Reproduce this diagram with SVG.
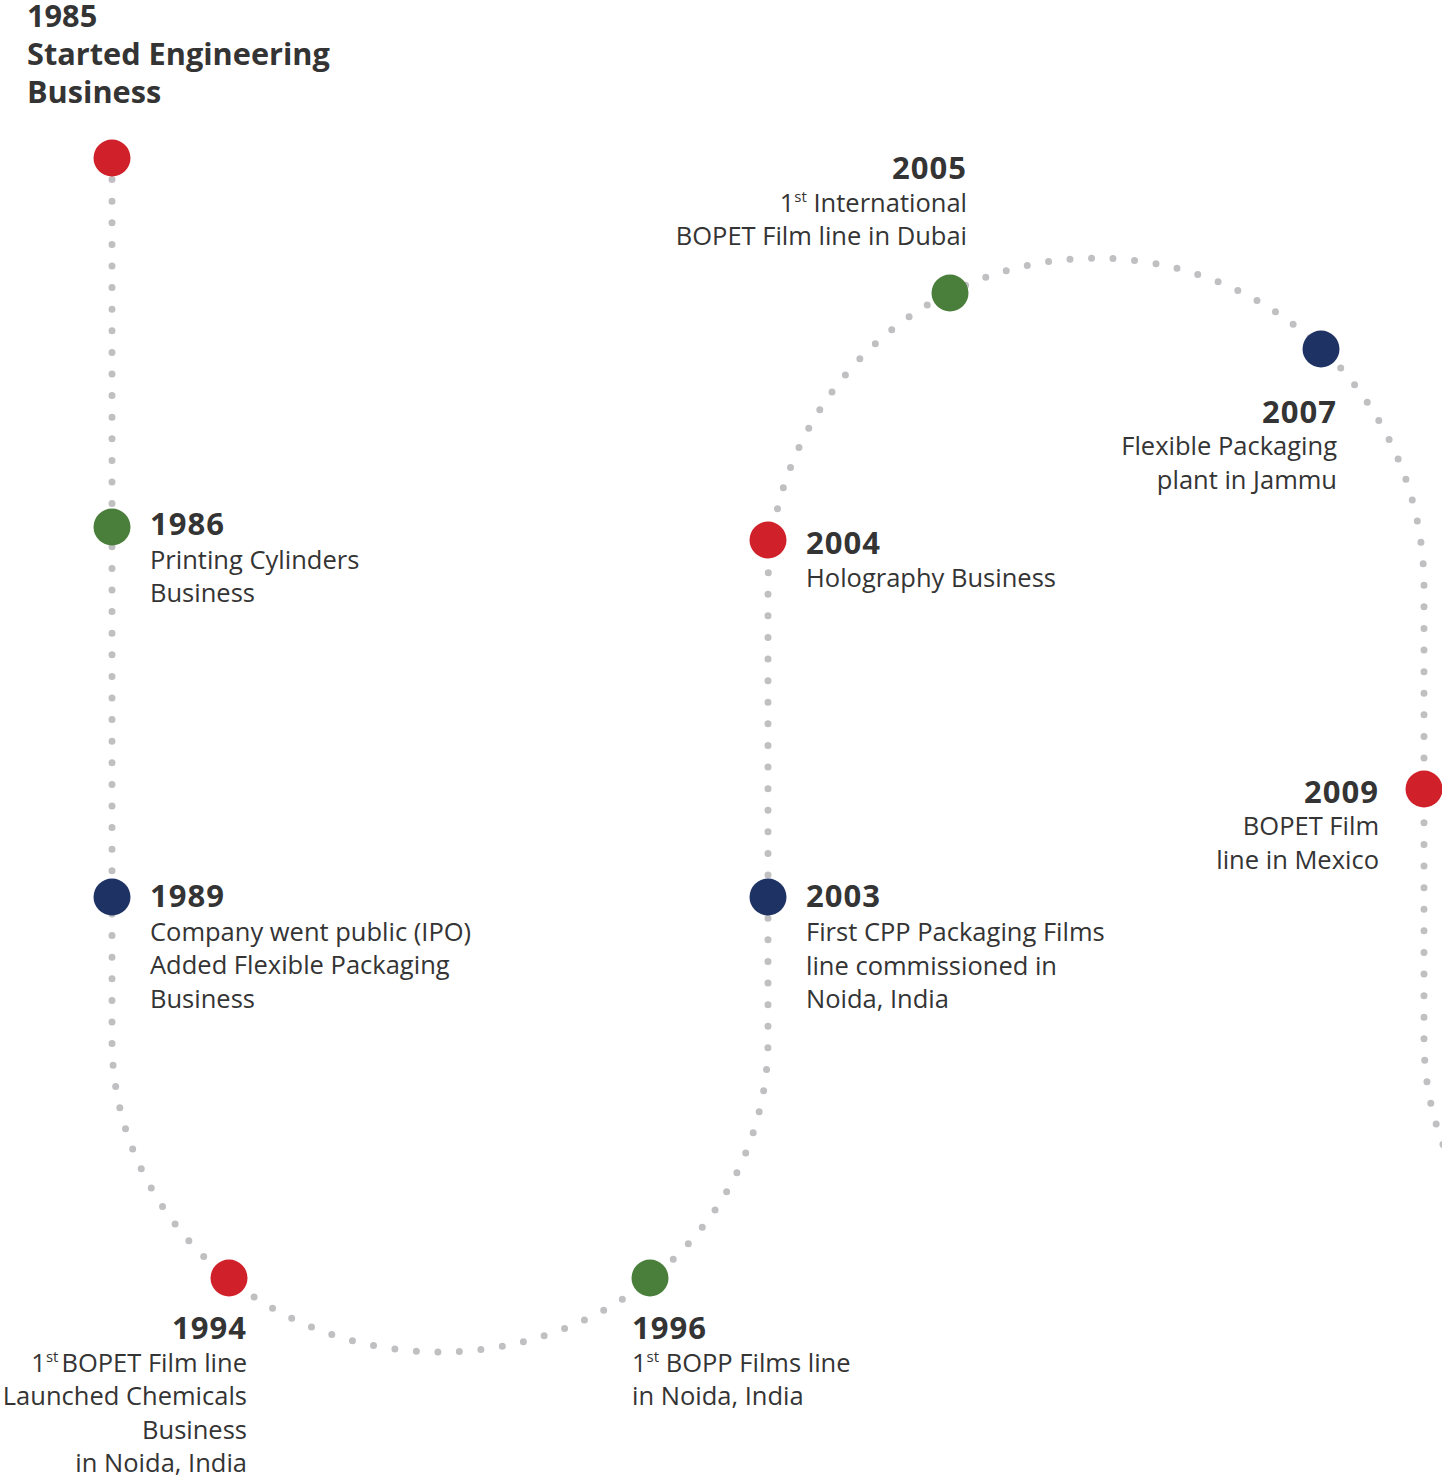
<svg xmlns="http://www.w3.org/2000/svg" width="1442" height="1477" viewBox="0 0 1442 1477">
<style>
text{font-family:"Open Sans","Liberation Sans",sans-serif;fill:#343434}
.y{font-weight:700;font-size:31px;letter-spacing:1px}
.b{font-size:25.5px}
.h{font-weight:700;font-size:30.7px}
.e{text-anchor:end}
.s{font-size:15px}
.red{fill:#d0202a}.grn{fill:#4a7e3b}.nav{fill:#1e3264}
</style>
<rect width="1442" height="1477" fill="#fff"/>
<g id="connectors">
<path d="M112,158 L112,1040 A328,312 0 0 0 768,1040 L768,587 A328,329 0 0 1 1424,587 L1424,1040 A328,312 0 0 0 1752,1352" fill="none" stroke="#c0c0c2" stroke-width="7" stroke-linecap="round" stroke-dasharray="0 21.6"/>
</g>
<g id="n1985"><circle class="red" cx="112" cy="158" r="18.5"/>
<text class="h" x="27" y="27">1985</text>
<text class="h" x="27" y="65">Started Engineering</text>
<text class="h" x="27" y="103">Business</text></g>
<g id="n1986"><circle class="grn" cx="112" cy="527" r="18.5"/>
<text class="y" x="150" y="535">1986</text>
<text class="b" x="150" y="569">Printing Cylinders</text>
<text class="b" x="150" y="602">Business</text></g>
<g id="n1989"><circle class="nav" cx="112" cy="897" r="18.5"/>
<text class="y" x="150" y="907">1989</text>
<text class="b" x="150" y="941">Company went public (IPO)</text>
<text class="b" x="150" y="974">Added Flexible Packaging</text>
<text class="b" x="150" y="1008">Business</text></g>
<g id="n1994"><circle class="red" cx="229" cy="1278" r="18.5"/>
<text class="y e" x="247" y="1339">1994</text>
<text class="b e" x="247" y="1372">1<tspan class="s" dy="-10">st</tspan><tspan dx="3" dy="10">BOPET Film line</tspan></text>
<text class="b e" x="247" y="1405">Launched Chemicals</text>
<text class="b e" x="247" y="1439">Business</text>
<text class="b e" x="247" y="1472">in Noida, India</text></g>
<g id="n1996"><circle class="grn" cx="650" cy="1278" r="18.5"/>
<text class="y" x="632" y="1339">1996</text>
<text class="b" x="632" y="1372">1<tspan class="s" dy="-10">st</tspan><tspan dy="10"> BOPP Films line</tspan></text>
<text class="b" x="632" y="1405">in Noida, India</text></g>
<g id="n2003"><circle class="nav" cx="768" cy="897" r="18.5"/>
<text class="y" x="806" y="907">2003</text>
<text class="b" x="806" y="941">First CPP Packaging Films</text>
<text class="b" x="806" y="975">line commissioned in</text>
<text class="b" x="806" y="1008">Noida, India</text></g>
<g id="n2004"><circle class="red" cx="768" cy="540" r="18.5"/>
<text class="y" x="806" y="554">2004</text>
<text class="b" x="806" y="587">Holography Business</text></g>
<g id="n2005"><circle class="grn" cx="950" cy="293" r="18.5"/>
<text class="y e" x="967" y="179">2005</text>
<text class="b e" x="967" y="212">1<tspan class="s" dy="-10">st</tspan><tspan dy="10"> International</tspan></text>
<text class="b e" x="967" y="245">BOPET Film line in Dubai</text></g>
<g id="n2007"><circle class="nav" cx="1321" cy="349" r="18.5"/>
<text class="y e" x="1337" y="423">2007</text>
<text class="b e" x="1337" y="455">Flexible Packaging</text>
<text class="b e" x="1337" y="489">plant in Jammu</text></g>
<g id="n2009"><circle class="red" cx="1424" cy="789" r="18.5"/>
<text class="y e" x="1379" y="803">2009</text>
<text class="b e" x="1379" y="835">BOPET Film</text>
<text class="b e" x="1379" y="869">line in Mexico</text></g>
</svg>
